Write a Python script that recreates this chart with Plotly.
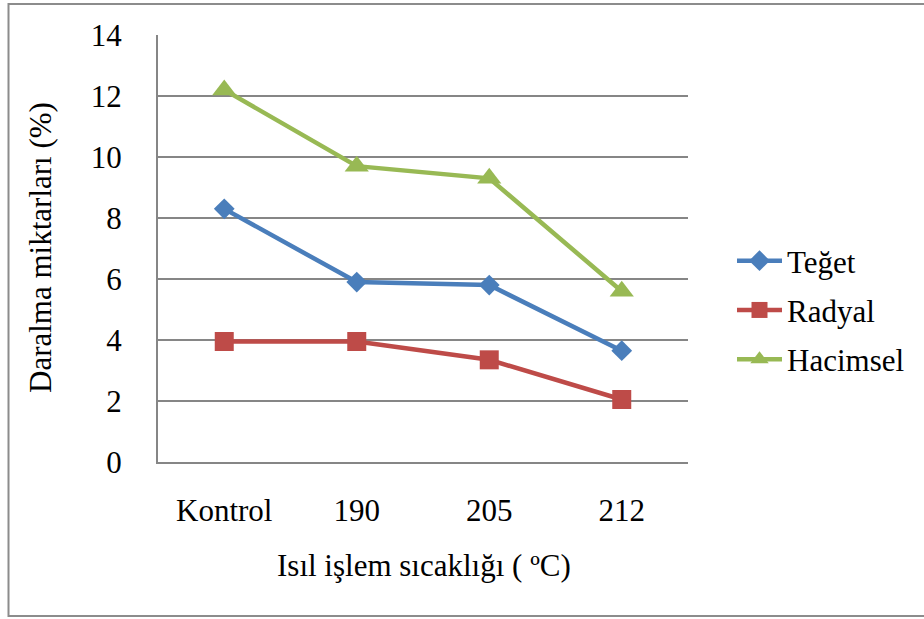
import plotly.graph_objects as go

categories = ["Kontrol", "190", "205", "212"]
teget = [8.3, 5.9, 5.8, 3.65]
radyal = [3.95, 3.95, 3.35, 2.05]
hacimsel = [12.2, 9.7, 9.3, 5.6]
y_ticks = [0, 2, 4, 6, 8, 10, 12, 14]

FONT = "Liberation Serif"
FS = 31

series = [
    ("Teğet", teget, "#4A7EBB", "diamond", 16),
    ("Radyal", radyal, "#BE4B48", "square", 19),
    ("Hacimsel", hacimsel, "#98B954", "triangle-up", 21),
]

fig = go.Figure()
for i, (name, vals, color, sym, size) in enumerate(series):
    fig.add_trace(go.Scatter(
        x=categories, y=vals, name=name, mode="lines+markers",
        line=dict(color=color, width=4.5),
        marker=dict(symbol=sym, size=size, color=color),
        legendgroup=f"g{i}",
    ))

# plot area: x 158..688, y 35..462
L, R, T, B = 158, 924 - 688, 35, 619 - 462
W, H = 924 - L - R, 619 - T - B

def px(x):
    return (x - L) / W

def py(y):
    return (619 - B - y) / H

fig.update_layout(
    width=924, height=619,
    margin=dict(l=L, r=R, t=T, b=B, autoexpand=False),
    paper_bgcolor="white", plot_bgcolor="white",
    font=dict(family=FONT, size=FS, color="black"),
    showlegend=True,
    legend=dict(
        x=px(732), y=py(234), xanchor="left", yanchor="top",
        font=dict(size=FS, family=FONT, color="black"),
        tracegroupgap=6, itemwidth=45, bgcolor="rgba(0,0,0,0)",
    ),
    xaxis=dict(
        type="category", range=[-0.5, 3.5],
        showgrid=False, showline=True, linecolor="#868686", linewidth=2,
        ticks="", ticklabelstandoff=20,
        tickfont=dict(size=FS, family=FONT, color="black"),
        fixedrange=True,
    ),
    yaxis=dict(
        range=[0, 14], tickvals=y_ticks,
        showgrid=True, gridcolor="#868686", gridwidth=2,
        showline=True, linecolor="#868686", linewidth=2,
        zeroline=False, ticks="", ticklabelstandoff=28,
        tickfont=dict(size=FS, family=FONT, color="black"),
        fixedrange=True,
    ),
    annotations=[
        dict(text="Daralma miktarları (%)", xref="paper", yref="paper",
             x=px(40), y=py(248), textangle=-90, showarrow=False,
             font=dict(size=FS, family=FONT, color="black"),
             xanchor="center", yanchor="middle"),
        dict(text="Isıl işlem sıcaklığı ( ºC)", xref="paper", yref="paper",
             x=px(424), y=py(565), showarrow=False,
             font=dict(size=FS, family=FONT, color="black"),
             xanchor="center", yanchor="middle"),
    ],
    shapes=[
        dict(type="rect", xref="paper", yref="paper",
             x0=px(8.5), x1=px(940), y0=py(616), y1=py(4),
             line=dict(color="#8C8C8C", width=2), fillcolor="rgba(0,0,0,0)",
             layer="below"),
    ],
)

fig.write_html("out.html")
